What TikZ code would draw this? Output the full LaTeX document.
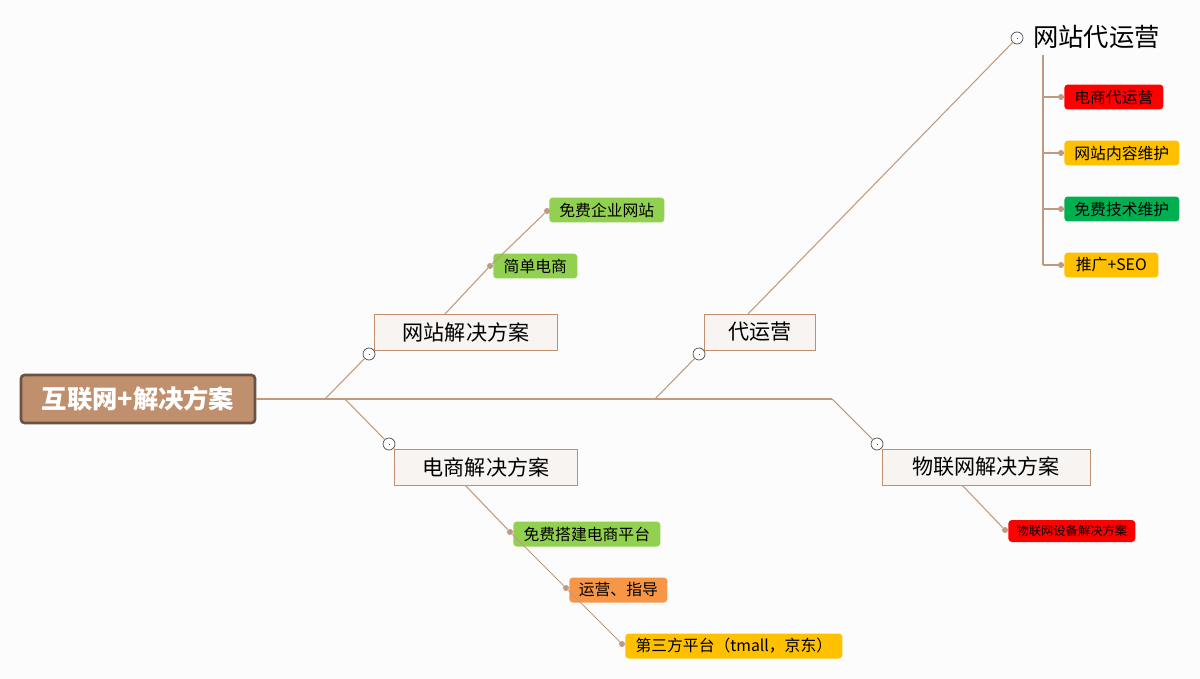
\documentclass[tikz,border=0pt]{standalone}
\usepackage{fontspec}
\setmainfont{Noto Sans CJK SC}
\usepackage{tikz}
\definecolor{lnk}{HTML}{C09A80}
\definecolor{topicbg}{HTML}{F8F4F1}
\definecolor{topicbd}{HTML}{C0906E}
\definecolor{rootbg}{HTML}{C0906E}
\definecolor{rootbd}{HTML}{6B5344}
\definecolor{lgreen}{HTML}{92D050}
\definecolor{dgreen}{HTML}{00B050}
\definecolor{yel}{HTML}{FFC000}
\definecolor{org}{HTML}{F79646}
\tikzset{
  topic/.style={draw=topicbd, fill=topicbg, minimum height=0.72cm, font=\large, inner sep=0pt},
  leaf/.style={fill=#1, rounded corners=2pt, minimum height=0.5cm, font=\small, inner sep=0pt, anchor=west},
  wire/.style={draw=lnk, line width=0.6pt},
  fold/.style={circle, draw=black!70, fill=white, inner sep=0pt, minimum size=0.24cm},
  dot/.style={circle, fill=lnk, inner sep=0pt, minimum size=0.12cm}
}
\newcommand{\minus}[1]{\draw[black!70,line width=0.4pt] ($(#1)+(-0.07,0)$) -- ($(#1)+(0.07,0)$);}
\usetikzlibrary{calc}
\begin{document}
\begin{tikzpicture}[x=0.02cm,y=-0.02cm]
\useasboundingbox[fill=black!1] (0,0) rectangle (1200,679);

% Zentrales Thema
\node[draw=rootbd, fill=rootbg, line width=1.5pt, rounded corners=2pt, minimum width=4.68cm, minimum height=0.96cm, text=white, font=\Large\bfseries, inner sep=0pt] (root) at (138,399) {互联网+解决方案};
\coordinate (bend) at (832,399);
\draw[wire] (root.east) -- (bend);

% Hauptzweige
\node[topic, minimum width=3.66cm] (web) at (466,332) {网站解决方案};
\node[topic, minimum width=3.66cm] (shop) at (486,467) {电商解决方案};
\node[topic, minimum width=2.22cm] (ops) at (760,332) {代运营};
\node[topic, minimum width=4.16cm] (iot) at (986,467) {物联网解决方案};

\node[fold] (fweb) at (369,354) {};
\node[fold] (fshop) at (389,444) {};
\node[fold] (fops) at (699,354) {};
\node[fold] (fiot) at (877,444) {};
\draw[wire] (325,399) -- (fweb) -- (web.south west);
\draw[wire] (345,399) -- (fshop) -- (shop.north west);
\draw[wire] (655,399) -- (fops) -- (ops.south west);
\draw[wire] (bend) -- (fiot) -- (iot.north west);
\foreach \f in {fweb,fshop,fops,fiot,fsub} {}
\minus{fweb}\minus{fshop}\minus{fops}\minus{fiot}

% Website
\node[leaf=lgreen, minimum width=1.68cm] (easy) at (493,266) {简单电商};
\node[leaf=lgreen, minimum width=2.3cm] (free) at (549,210) {免费企业网站};
\node[dot] (deasy) at (490,266) {};
\node[dot] (dfree) at (547,211) {};
\draw[wire] (445,314) -- (deasy) -- (dfree);

% E-Commerce
\node[leaf=lgreen, minimum width=2.94cm] (build) at (513,534) {免费搭建电商平台};
\node[leaf=org, minimum width=1.96cm] (guide) at (569,590) {运营、指导};
\node[leaf=yel, minimum width=4.34cm] (third) at (625,646) {第三方平台（tmall，京东）};
\node[dot] (dbuild) at (510,532) {};
\node[dot] (dguide) at (566,588) {};
\node[dot] (dthird) at (622,644) {};
\draw[wire] (465,485) -- (dbuild) -- (dguide) -- (dthird);

% Betrieb
\node[fold] (fsub) at (1017,38) {};
\minus{fsub}
\node[anchor=west, font=\Large, inner sep=0pt] (sub) at (1033,37) {网站代运营};
\draw[wire] (748,314) -- (fsub);
\draw[wire] (1043,55) -- (1043,265);
\node[leaf=red, minimum width=1.98cm] (o1) at (1064,97) {电商代运营};
\node[leaf=yel, minimum width=2.3cm] (o2) at (1064,153) {网站内容维护};
\node[leaf=dgreen, minimum width=2.3cm] (o3) at (1064,209) {免费技术维护};
\node[leaf=yel, minimum width=1.88cm] (o4) at (1064,265) {推广+SEO};
\foreach \o in {o1,o2,o3,o4} {
  \draw[wire] (1043,0 |- \o.west) -- (\o.west);
  \node[dot] at ($(\o.west)+(-3,0)$) {};
}

% IoT
\node[leaf=red, minimum width=2.54cm, minimum height=0.44cm, font=\scriptsize] (dev) at (1008,531) {物联网设备解决方案};
\node[dot] (ddev) at (1005,530) {};
\draw[wire] (962,485) -- (ddev);
\end{tikzpicture}
\end{document}
